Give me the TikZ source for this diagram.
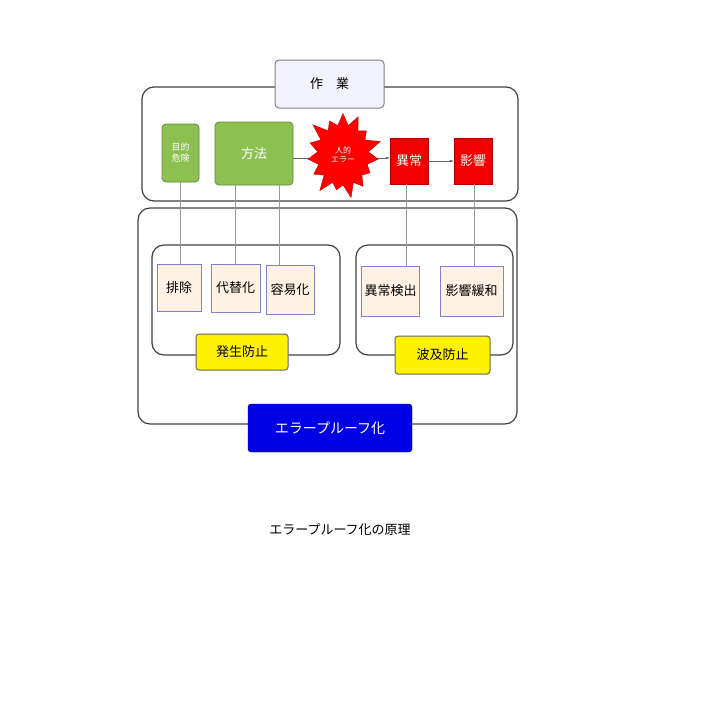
\documentclass[tikz,border=0pt]{standalone}
\usepackage{fontspec}
\setmainfont{Noto Sans CJK JP}
\usetikzlibrary{shapes.symbols,arrows.meta}
\definecolor{lgreen}{HTML}{8CC152}
\begin{document}
\begin{tikzpicture}[x=1pt,y=-1pt,
  frame/.style={draw=black!75,line width=1.2pt,rounded corners=12pt},
  grn/.style={draw=lgreen!70!black,fill=lgreen,line width=0.8pt,rounded corners=4pt,text=white},
  redb/.style={draw=red!70!black,fill=red!95!black,text=white},
  peach/.style={draw=gray!60!blue!70,fill=orange!10,line width=1pt,font=\fontsize{13}{15}\selectfont},
  yel/.style={draw=black!60,fill=yellow,line width=1pt,rounded corners=3pt,font=\fontsize{13}{15}\selectfont},
  conn/.style={draw=gray!80,line width=0.6pt}]
\useasboundingbox (0,0) rectangle (720,720);
\draw[frame] (142,87) rectangle (518,201);
\draw[frame] (138,208) rectangle (517,424);
\draw[frame] (152,245) rectangle (340,355);
\draw[frame] (356,245) rectangle (513,355);
\node[draw=black!50,fill=gray!15!blue!5,rounded corners=4pt,line width=1pt,minimum width=109pt,minimum height=48pt,font=\fontsize{13}{15}\selectfont] (work) at (329.5,84) {作\quad 業};
\node[grn,minimum width=37pt,minimum height=58pt,align=center,font=\fontsize{9}{11}\selectfont] (goal) at (180.5,153) {目的\\危険};
\node[grn,minimum width=78pt,minimum height=63pt,font=\fontsize{13}{15}\selectfont] (meth) at (254,153.5) {方法};
\node[redb,minimum width=38pt,minimum height=46pt,font=\fontsize{13}{15}\selectfont] (ab) at (409,161) {異常};
\node[redb,minimum width=38pt,minimum height=46pt,font=\fontsize{13}{15}\selectfont] (ef) at (473,161) {影響};
\coordinate (m1) at (293,158);
\draw[conn,-{Latex[length=4pt]},black!60] (m1) -- (ab.west |- m1);
\node[starburst,starburst points=15,starburst point height=16pt,draw=red!80!black,fill=red,minimum width=80pt,minimum height=92pt,inner sep=6pt,align=center,text=white,font=\fontsize{8}{9}\selectfont] (err) at (343,155) {人的\\エラー};
\draw[conn,-{Latex[length=4pt]},black!60] (ab.east) -- (ef.west);
\node[peach,minimum width=44pt,minimum height=47pt] (n1) at (179,287.5) {排除};
\node[peach,minimum width=49pt,minimum height=48pt] (n2) at (235.5,288) {代替化};
\node[peach,minimum width=48pt,minimum height=49pt] (n3) at (290,289.5) {容易化};
\node[peach,minimum width=55pt,minimum height=50pt] (n4) at (390.5,291) {異常検出};
\node[peach,minimum width=63pt,minimum height=50pt] (n5) at (471.5,291) {影響緩和};
\draw[conn] (goal.south) -- (n1.north -| goal.south);
\draw[conn] (235,185) -- (235,264);
\draw[conn] (279,185) -- (279,265);
\draw[conn] (406,184) -- (406,266);
\draw[conn] (474,184) -- (474,266);
\node[yel,minimum width=92pt,minimum height=36pt] (p1) at (242,352) {発生防止};
\node[yel,minimum width=95pt,minimum height=38pt] (p2) at (442.5,355) {波及防止};
\node[draw=blue!60!black,fill=blue!90!black,rounded corners=3pt,minimum width=164pt,minimum height=48pt,text=white,font=\fontsize{14}{16}\selectfont] (ep) at (330,428) {エラープルーフ化};
\node[font=\fontsize{13}{15}\selectfont] (cap) at (340,530) {エラープルーフ化の原理};
\end{tikzpicture}
\end{document}
